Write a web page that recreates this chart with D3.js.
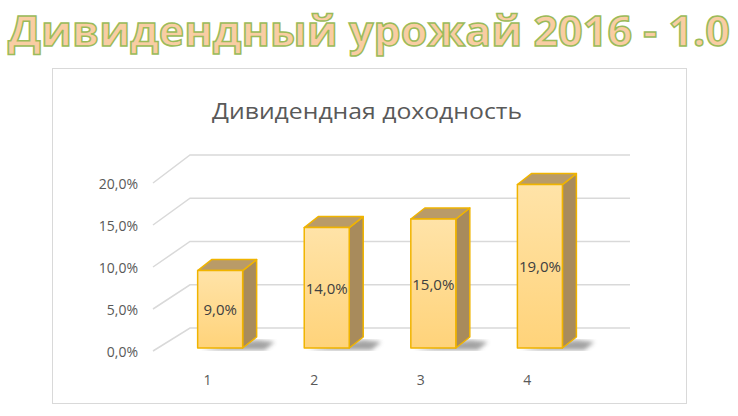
<!DOCTYPE html><html><head><meta charset="utf-8"><script src="https://cdn.jsdelivr.net/npm/d3@7"></script>
<style>body{margin:0;background:#fff}</style></head><body><svg id="c" width="738" height="416"></svg><script>
const categories=["1","2","3","4"];
const values=[9.0,14.0,15.0,19.0];
const ticks=[0,5,10,15,20];
const svg=d3.select("#c");
const defs=svg.append("defs");
const g=defs.append("linearGradient").attr("id","fg").attr("x1",0).attr("x2",0).attr("y1",0).attr("y2",1);
g.append("stop").attr("offset",0).attr("stop-color","#ffe3a8");
g.append("stop").attr("offset",1).attr("stop-color","#ffd37a");
defs.append("filter").attr("id","bl").append("feGaussianBlur").attr("stdDeviation",2);
svg.append("text").attr("x",369).attr("y",46).attr("text-anchor","middle")
 .attr("font-family","Open Sans").attr("font-weight","bold").attr("font-size",42)
 .attr("textLength",722).attr("lengthAdjust","spacingAndGlyphs")
 .attr("fill","#f9cda3").attr("stroke","#9bbb59").attr("stroke-width",1.5)
 .text("Дивидендный урожай 2016 - 1.0");
svg.append("rect").attr("x",52.5).attr("y",68.5).attr("width",634).attr("height",335).attr("fill","#fff").attr("stroke","#d9d9d9");
svg.append("text").attr("x",367).attr("y",119).attr("text-anchor","middle").attr("font-family","Open Sans").attr("font-size",22)
 .attr("textLength",310).attr("lengthAdjust","spacingAndGlyphs").attr("fill","#595959").text("Дивидендная доходность");
const yF=d3.scaleLinear().domain([0,20]).range([351,183]);
const yB=d3.scaleLinear().domain([0,20]).range([328,155]);
const yBar=d3.scaleLinear().domain([0,20]).range([348,176]);
const x=d3.scaleBand().domain(categories).range([153,590]).paddingInner(0.4).paddingOuter(0.25);
const gl=svg.append("g").attr("stroke","#d9d9d9").attr("stroke-width",1.5).attr("fill","none");
ticks.forEach(t=>{gl.append("path").attr("d",`M153,${yF(t)}L190,${yB(t)}L630,${yB(t)}`);});
svg.append("g").selectAll("text").data(ticks).join("text").attr("x",138).attr("y",t=>yF(t)+6).attr("text-anchor","end")
 .attr("font-family","Open Sans").attr("font-size",14).attr("fill","#595959").text(t=>d3.format(".1f")(t).replace(".",",")+"%");
svg.append("g").selectAll("text").data(categories).join("text").attr("x",c=>x(c)+x.bandwidth()/2-4).attr("y",385).attr("text-anchor","middle")
 .attr("font-family","Open Sans").attr("font-size",14).attr("fill","#595959").text(c=>c);
const dx=14,dy=-11;
const bars=svg.append("g");
values.forEach((v,i)=>{
 const x0=x(categories[i])+18,w=45,yt=yBar(v),yb=yBar(0);
 bars.append("path").attr("d",`M${x0+4},${yb+2}L${x0+w+dx+8},${yb+2}L${x0+w+dx+18},${yb-6}L${x0+w+dx},${yb-8}Z`).attr("fill","#666").attr("opacity",0.6).attr("filter","url(#bl)");
 const s={stroke:"#f0b400","stroke-width":1.5,"stroke-linejoin":"round"};
 const side=bars.append("path").attr("d",`M${x0+w},${yt}L${x0+w+dx},${yt+dy}L${x0+w+dx},${yb+dy}L${x0+w},${yb}Z`).attr("fill","#a88b5c");
 const top=bars.append("path").attr("d",`M${x0},${yt}L${x0+dx},${yt+dy}L${x0+w+dx},${yt+dy}L${x0+w},${yt}Z`).attr("fill","#b99b68");
 const fr=bars.append("rect").attr("x",x0).attr("y",yt).attr("width",w).attr("height",yb-yt).attr("fill","url(#fg)");
 [side,top,fr].forEach(e=>Object.entries(s).forEach(([k,val])=>e.attr(k,val)));
 bars.append("text").attr("x",x0+w/2).attr("y",(yt+yb)/2+6).attr("text-anchor","middle").attr("font-family","Open Sans").attr("font-size",15).attr("fill","#404040").text(d3.format(".1f")(v).replace(".",",")+"%");
});
</script></body></html>
